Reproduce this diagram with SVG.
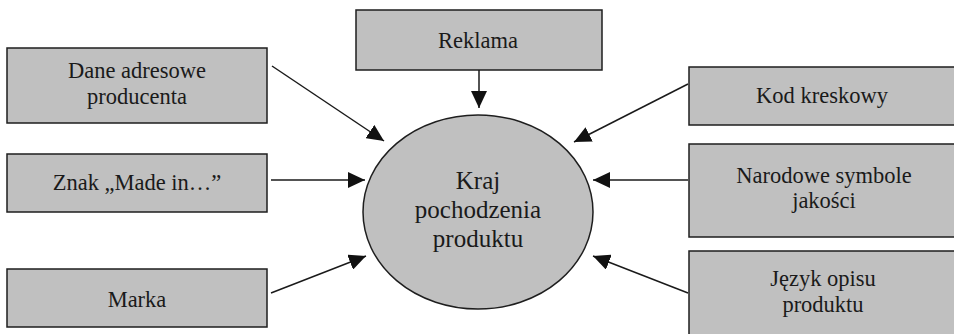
<svg xmlns="http://www.w3.org/2000/svg" width="954" height="334" viewBox="0 0 954 334">
<style>
.box{fill:#c0c0c0;stroke:#1e1e1e;stroke-width:1.5}
.t{font-family:"Liberation Serif","Times New Roman",serif;font-size:22.5px;fill:#1a1a1a;text-anchor:middle}
.tc{font-size:25px}
.c{stroke:#1a1a1a;stroke-width:1.5;fill:none;marker-end:url(#ah)}
</style>
<defs>
<marker id="ah" markerUnits="userSpaceOnUse" markerWidth="18" markerHeight="16" viewBox="0 0 18 16" refX="17" refY="8" orient="auto">
<path d="M0,0 L17,8 L0,16 Z" fill="#111"/>
</marker>
</defs>
<rect width="954" height="334" fill="#fff"/>
<g id="node-dane"><rect class="box" x="7" y="48" width="260" height="75"/><text class="t" x="137" y="78">Dane adresowe</text><text class="t" x="137" y="104">producenta</text></g>
<g id="node-znak"><rect class="box" x="7" y="154" width="260" height="58"/><text class="t" x="137" y="190">Znak „Made in…”</text></g>
<g id="node-marka"><rect class="box" x="7" y="269" width="260" height="58"/><text class="t" x="137" y="307">Marka</text></g>
<g id="node-reklama"><rect class="box" x="356" y="10" width="246" height="60"/><text class="t" x="478" y="48">Reklama</text></g>
<g id="node-kraj"><ellipse class="box" cx="478" cy="212" rx="115" ry="97"/><text class="t tc" x="478" y="189">Kraj</text><text class="t tc" x="478" y="218">pochodzenia</text><text class="t tc" x="478" y="247">produktu</text></g>
<g id="node-kod"><rect class="box" x="689" y="67" width="270" height="58"/><text class="t" x="822" y="103">Kod kreskowy</text></g>
<g id="node-narodowe"><rect class="box" x="689" y="144" width="270" height="93"/><text class="t" x="824" y="183">Narodowe symbole</text><text class="t" x="824" y="208">jakości</text></g>
<g id="node-jezyk"><rect class="box" x="689" y="251" width="270" height="90"/><text class="t" x="823" y="286">Język opisu</text><text class="t" x="823" y="312">produktu</text></g>
<g id="connectors">
<line class="c" x1="272" y1="66" x2="384" y2="141"/>
<line class="c" x1="271" y1="180" x2="365" y2="180"/>
<line class="c" x1="271" y1="293" x2="366" y2="256"/>
<line class="c" x1="479" y1="70" x2="479" y2="108"/>
<line class="c" x1="688" y1="84" x2="574" y2="142"/>
<line class="c" x1="688" y1="180" x2="593" y2="180"/>
<line class="c" x1="688" y1="293" x2="593" y2="256"/>
</g>
</svg>
